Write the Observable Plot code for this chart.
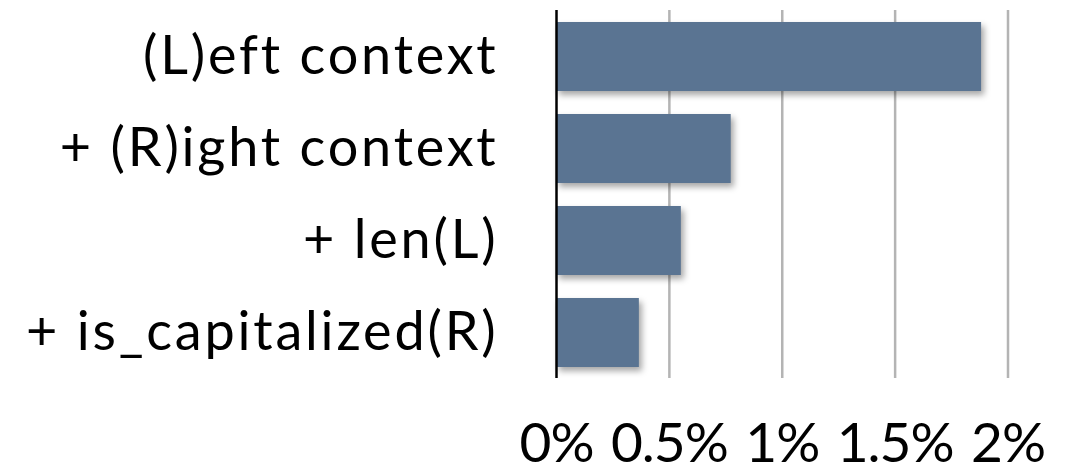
<!DOCTYPE html>
<html>
<head>
<meta charset="utf-8">
<script src="https://cdn.jsdelivr.net/npm/d3@7"></script>
<script src="https://cdn.jsdelivr.net/npm/@observablehq/plot@0.6"></script>
<style>
  html, body { margin: 0; padding: 0; background: #fff; }
  #chart { width: 1082px; height: 473px; overflow: hidden; }
  .yax text { letter-spacing: 2.8px; }
  .xax text { letter-spacing: -1px; }
</style>
</head>
<body>
<div id="chart"></div>
<script>
const categories = ["(L)eft context", "+ (R)ight context", "+ len(L)", "+ is_capitalized(R)"];
const values = [1.883, 0.774, 0.553, 0.367];
const xTicks = [0, 0.5, 1, 1.5, 2];
const xTickLabels = ["0%", "0.5%", "1%", "1.5%", "2%"];

const data = categories.map((c, i) => ({category: c, value: values[i]}));

const chart = Plot.plot({
  width: 1082,
  height: 473,
  marginLeft: 556,
  marginRight: 74.5,
  marginTop: 10,
  marginBottom: 95,
  style: {fontFamily: "Lato, sans-serif", background: "#fff", color: "#000"},
  x: {domain: [0, 2], ticks: xTicks},
  y: {domain: categories, paddingInner: 0.25, paddingOuter: 0.11},
  marks: [
    Plot.gridX(xTicks.filter(d => d > 0), {stroke: "#b4b4b4", strokeOpacity: 1, strokeWidth: 2.5}),
    Plot.barX(data, {x: "value", y: "category", fill: "#5a7492"}),
    Plot.ruleX([0], {stroke: "#000", strokeWidth: 2.5}),
    Plot.axisX({ticks: xTicks, tickSize: 0, tickPadding: 44, fontSize: 55,
      tickFormat: d => xTickLabels[xTicks.indexOf(d)], label: null}),
    Plot.axisY({tickSize: 0, tickPadding: 58, fontSize: 54, label: null})
  ]
});

const svg = d3.select(chart);
svg.select('g[aria-label="bar"]')
  .style("filter", "drop-shadow(3px 4px 3px rgba(0,0,0,0.35))");
svg.select('g[aria-label="x-axis tick label"]').classed("xax", true);
svg.select('g[aria-label="y-axis tick label"]').classed("yax", true);

document.getElementById("chart").appendChild(chart);
</script>
</body>
</html>
